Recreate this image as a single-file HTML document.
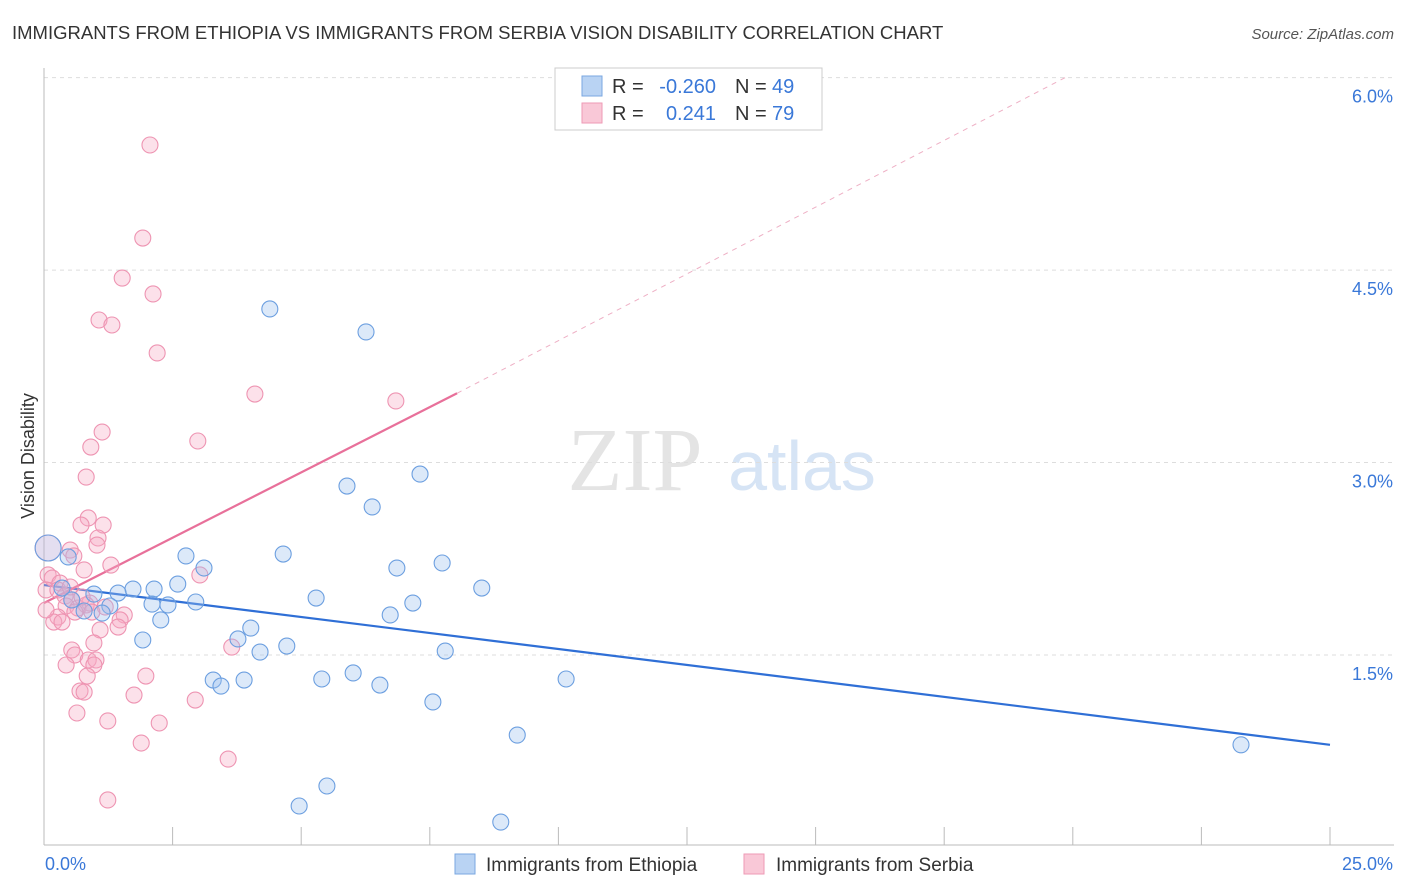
<!DOCTYPE html>
<html><head><meta charset="utf-8">
<style>
body{margin:0;background:#fff;font-family:"Liberation Sans",sans-serif;}
svg{display:block}
</style></head>
<body>
<svg id="chart" width="1406" height="892" xmlns="http://www.w3.org/2000/svg">
<text x="12" y="39" font-size="18.5" fill="#333">IMMIGRANTS FROM ETHIOPIA VS IMMIGRANTS FROM SERBIA VISION DISABILITY CORRELATION CHART</text>
<text x="1394" y="39" font-size="15" fill="#555" font-style="italic" text-anchor="end">Source: ZipAtlas.com</text>
<text x="34" y="456" font-size="18" fill="#333" text-anchor="middle" transform="rotate(-90 34 456)">Vision Disability</text>
<g>
<text x="635" y="490" font-size="90" fill="#e4e4e4" font-family="Liberation Serif,serif" text-anchor="middle">ZIP</text>
<text x="802" y="490" font-size="70" fill="#d6e4f5" text-anchor="middle">atlas</text>
</g>
<g id="grid"></g><g id="axes"></g><g id="lines"></g><g id="pts"></g>
<g>
<rect x="555" y="68" width="267" height="62" fill="#fff" stroke="#ccc"/>
<rect x="582" y="76" width="20" height="20" fill="#b9d3f3" stroke="#7aa7e0"/>
<rect x="582" y="103" width="20" height="20" fill="#f9c8d7" stroke="#ee9ab5"/>
<text x="612" y="93" font-size="20" fill="#333">R =</text>
<text x="716" y="93" font-size="20" fill="#3a78d8" text-anchor="end">-0.260</text>
<text x="735" y="93" font-size="20" fill="#333">N =</text>
<text x="772" y="93" font-size="20" fill="#3a78d8">49</text>
<text x="612" y="120" font-size="20" fill="#333">R =</text>
<text x="716" y="120" font-size="20" fill="#3a78d8" text-anchor="end">0.241</text>
<text x="735" y="120" font-size="20" fill="#333">N =</text>
<text x="772" y="120" font-size="20" fill="#3a78d8">79</text>
</g>
<g>
<rect x="455" y="854" width="20" height="20" fill="#b9d3f3" stroke="#7aa7e0"/>
<text x="486" y="871" font-size="19" fill="#333">Immigrants from Ethiopia</text>
<rect x="744" y="854" width="20" height="20" fill="#f9c8d7" stroke="#ee9ab5"/>
<text x="776" y="871" font-size="19" fill="#333">Immigrants from Serbia</text>
</g>
</svg>
<script>
const yTicks=[1.5,3.0,4.5,6.0];
const yTickLabels=["1.5%","3.0%","4.5%","6.0%"];
const xTickCount=10;
const xLabels=["0.0%","25.0%"];
const ethX=[4.39,6.26,7.31,5.89,6.38,0.47,2.76,4.65,3.11,6.86,7.74,2.60,8.51,2.14,1.73,1.44,0.97,5.29,2.95,7.17,2.10,2.41,1.28,0.78,1.13,6.73,2.27,4.02,1.92,3.77,4.72,4.20,7.80,3.29,3.89,5.40,6.01,10.15,3.44,6.53,7.56,9.20,23.27,5.50,4.96,8.88,0.08,0.35,0.54];
const ethY=[4.197,4.018,2.91,2.817,2.654,2.264,2.272,2.287,2.178,2.178,2.217,2.053,2.022,2.014,2.014,1.983,1.975,1.944,1.913,1.905,1.897,1.89,1.882,1.843,1.827,1.812,1.773,1.71,1.617,1.625,1.57,1.523,1.531,1.305,1.305,1.313,1.36,1.313,1.258,1.266,1.134,0.876,0.80,0.479,0.323,0.198,2.334,2.022,1.929];
const serX=[2.06,1.92,1.52,2.12,1.07,1.32,2.20,4.10,6.84,1.13,2.99,0.91,0.82,0.86,0.72,1.15,1.05,1.03,0.51,0.58,1.30,0.78,3.03,0.08,0.16,0.31,0.04,0.27,0.41,0.54,0.89,0.43,0.66,0.82,1.19,0.60,0.93,1.56,1.48,0.27,0.19,0.35,1.44,1.09,0.97,3.65,0.54,0.60,0.86,1.01,0.97,0.43,1.98,0.84,0.70,0.78,1.75,2.94,0.64,1.24,2.24,1.89,3.58,1.24,0.08,0.04,0.51,0.74];
const serY=[5.475,4.75,4.438,4.314,4.111,4.072,3.854,3.534,3.48,3.238,3.168,3.121,2.887,2.568,2.513,2.513,2.412,2.357,2.318,2.272,2.201,2.163,2.124,2.124,2.10,2.061,2.007,2.007,1.96,1.929,1.905,1.882,1.866,1.89,1.874,1.835,1.835,1.812,1.773,1.796,1.757,1.757,1.718,1.695,1.594,1.562,1.539,1.5,1.461,1.461,1.422,1.422,1.336,1.336,1.219,1.211,1.188,1.149,1.048,0.986,0.97,0.814,0.689,0.37,2.334,1.851,2.03,1.952];
const ethTrend=[[0,2.045],[25,0.80]];
const serTrend=[[0,1.905],[8.03,3.54]];
const serTrendExt=[[8.03,3.54],[19.85,6.0]];
const NS="http://www.w3.org/2000/svg";
const X=v=>44+v*51.44, Y=v=>655-(v-1.5)*128.3;
function mk(t,a,p){const e=document.createElementNS(NS,t);for(const k in a)e.setAttribute(k,a[k]);p.appendChild(e);return e;}
const grid=document.getElementById('grid'),axes=document.getElementById('axes');
yTicks.forEach((t,i)=>{
 const l=mk('line',{x1:44,x2:1394,y1:Y(t),y2:Y(t),stroke:'#ddd','stroke-dasharray':'4,4'},grid);
 
 
 const tx=mk('text',{x:1393,y:Y(t)+25,'font-size':18,fill:'#3a78d8','text-anchor':'end'},axes);
 tx.textContent=yTickLabels[i];
 
 
});
const ax=mk('line',{x1:44,x2:1394,y1:845,y2:845,stroke:'#bbb'},axes);


const ay=mk('line',{x1:44,x2:44,y1:68,y2:845,stroke:'#bbb'},axes);


for(let i=0;i<=xTickCount;i++){const x=X(i*25/xTickCount);
 const t=mk('line',{x1:x,x2:x,y1:827,y2:845,stroke:'#bbb'},axes);
 
 }
[[0,'start',45],[25,'end',1393]].forEach((d,i)=>{const t=mk('text',{x:d[2],y:870,'font-size':18,fill:'#3a78d8','text-anchor':d[1]},axes);t.textContent=xLabels[i];
 
 });
const lines=document.getElementById('lines');
function seg(p,st,extra,name){const l=mk('line',Object.assign({x1:X(p[0][0]),y1:Y(p[0][1]),x2:X(p[1][0]),y2:Y(p[1][1]),stroke:st,'stroke-width':2.2},extra),lines);
 
 }
seg(ethTrend,'#2f6fd6',{},'ethiopia-trend-line');
seg(serTrend,'#e8709a',{},'serbia-trend-line');
seg(serTrendExt,'#eeb0c5',{'stroke-dasharray':'5,5','stroke-width':1},'serbia-trend-extension');
const pts=document.getElementById('pts');
function dots(xs,ys,fill,st,name){xs.forEach((x,i)=>{const big=(x<0.1&&ys[i]>2.3);
 const c=mk('circle',{cx:X(x),cy:Y(ys[i]),r:big?13:8,fill:fill,'fill-opacity':big?0.25:0.35,stroke:st,'stroke-width':1.1},pts);
 
 });}
dots(serX,serY,'#f5a9c2','#ee94b2','serbia-point');
dots(ethX,ethY,'#9cc0ee','#6c9fe0','ethiopia-point');
</script>
</body></html>
